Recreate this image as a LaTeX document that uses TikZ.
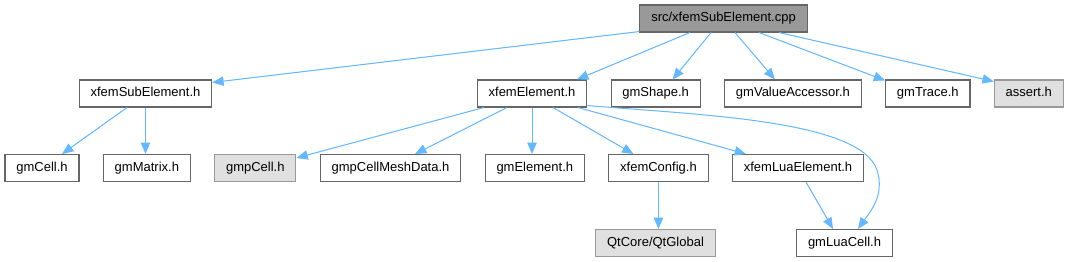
\documentclass[tikz,border=0pt]{standalone}
\usepackage{fontspec}
\setmainfont{Liberation Sans}
\usepackage{tikz}
\usetikzlibrary{arrows.meta, positioning, calc}

\definecolor{edgeblue}{HTML}{63B8FF}
\definecolor{boxline}{HTML}{666666}
\definecolor{extline}{HTML}{999999}
\definecolor{extfill}{HTML}{E0E0E0}
\definecolor{rootfill}{HTML}{999999}

\begin{document}
\begin{tikzpicture}[x=0.75pt, y=-0.75pt, font=\fontsize{9.75}{11}\selectfont, >={Triangle[length=8.5pt,width=7pt]}, node distance=17.5pt,
    hdr/.style={draw=boxline, line width=0.8pt, fill=white, inner xsep=8.5pt, inner ysep=0pt, minimum height=20.25pt, text height=7pt, text depth=2pt},
    ext/.style={hdr, draw=extline, fill=extfill},
    inc/.style={->, draw=edgeblue, fill=edgeblue, line width=0.75pt}]
    \path[use as bounding box, fill=white] (0,0) rectangle (1066,261);

    \node[hdr, fill=rootfill] (root) at (723.5,18.5) {src/xfemSubElement.cpp};

    \node[hdr] (xse) at (145.5,93.5) {xfemSubElement.h};
    \node[hdr] (xe) at (532,93.5) {xfemElement.h};
    \node[hdr, right=of xe] (shape) {gmShape.h};
    \node[hdr, right=of shape] (valacc) {gmValueAccessor.h};
    \node[hdr, right=of valacc] (trace) {gmTrace.h};
    \node[ext, right=of trace] (assert) {assert.h};

    \node[hdr] (cell) at (42,168) {gmCell.h};
    \node[hdr, right=of cell] (matrix) {gmMatrix.h};
    \node[ext, right=of matrix] (pcell) {gmpCell.h};
    \node[hdr, right=of pcell] (pmesh) {gmpCellMeshData.h};
    \node[hdr, right=of pmesh] (elem) {gmElement.h};
    \node[hdr, right=of elem] (config) {xfemConfig.h};
    \node[hdr, right=of config] (luaelem) {xfemLuaElement.h};

    \node[ext] (qt) at (655.5,243) {QtCore/QtGlobal};
    \node[hdr] (luacell) at (844.5,243) {gmLuaCell.h};

    \draw[inc] ($(root.south west)+(0,-1)$) -- ($(xse.north east)+(0,3)$);
    \draw[inc] ($(root.south)+(-33.5,0)$) -- ($(xe.north)+(45,0)$);
    \draw[inc] ($(root.south)+(-12.5,0)$) -- ($(shape.north)+(17,0)$);
    \draw[inc] ($(root.south)+(11.5,0)$) -- ($(valacc.north)+(-18,0)$);
    \draw[inc] ($(root.south)+(35.5,0)$) -- ($(trace.north west)+(0,1)$);
    \draw[inc] ($(root.south)+(55.5,0)$) -- ($(assert.north west)+(0,2)$);

    \draw[inc] ($(xse.south)+(-18.5,0)$) -- ($(cell.north)+(20,0)$);
    \draw[inc] (xse.south) -- (xse.south |- matrix.north);

    \draw[inc] ($(xe.south west)+(7,0)$) -- ($(pcell.north east)+(0,4)$);
    \draw[inc] ($(xe.south)+(-25,0)$) -- ($(pmesh.north)+(24.5,0)$);
    \draw[inc] (xe.south) -- (xe.south |- elem.north);
    \draw[inc] ($(xe.south)+(21,0)$) -- ($(config.north)+(-25,0)$);
    \draw[inc] ($(xe.south)+(46,0)$) -- ($(luaelem.north)+(-52,0)$);
    \draw[inc, fill=none] ($(xe.south east)+(0,-2)$) .. controls (700,115) and (860,120) .. (877,170)
        .. controls (885,195) and (870,212) .. ($(luacell.north)+(13.5,0)$);

    \draw[inc] (config.south) -- (config.south |- qt.north);
    \draw[inc] ($(luaelem.south)+(8,0)$) -- ($(luacell.north)+(-11.5,0)$);
\end{tikzpicture}
\end{document}
